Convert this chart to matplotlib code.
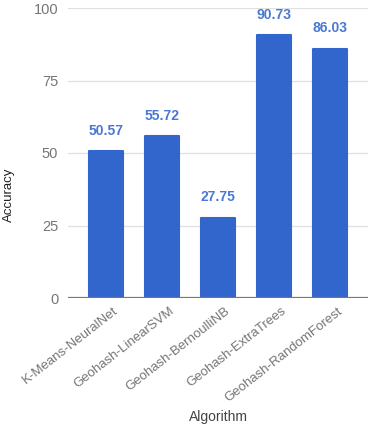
import numpy as np
import matplotlib
matplotlib.use("Agg")
import matplotlib.pyplot as plt
import matplotlib.transforms as mtrans

# data
algoritmi = ["K-Means-NeuralNet", "Geohash-LinearSVM", "Geohash-BernoulliNB",
             "Geohash-ExtraTrees", "Geohash-RandomForest"]
tocnost = [50.57, 55.72, 27.75, 90.73, 86.03]
y_ticks = [0, 25, 50, 75, 100]

plt.rcParams['font.family'] = ['Liberation Sans', 'DejaVu Sans']

W, H = 374, 426
fig = plt.figure(figsize=(W / 100, H / 100), dpi=100)
ax = fig.add_axes([68 / W, 1 - 298 / H, 300 / W, 290 / H])

x = np.arange(len(algoritmi))
# lagano zaobljeni rubovi stupaca
ax.bar(x, tocnost, width=0.62, color="#3366cc", edgecolor="#3366cc",
       linewidth=1.5, joinstyle="round", zorder=3)

# vrijednosti iznad stupaca
for xi, v in zip(x, tocnost):
    ax.text(xi, v + 4.5, f"{v:.2f}", ha="center", va="bottom",
            fontsize=10, fontweight="bold", color="#4a78d4")

ax.set_xlim(-0.68, len(algoritmi) - 1 + 0.68)
ax.set_ylim(0, 100)
ax.set_yticks(y_ticks)
ax.set_yticklabels([str(t) for t in y_ticks])
ax.grid(axis="y", color="#e0e0e0", linewidth=0.9, zorder=0)
ax.axhline(0, color="#777777", linewidth=1.6, zorder=4)

for s in ax.spines.values():
    s.set_visible(False)
ax.tick_params(axis="y", length=0, colors="#757575", labelsize=10.5, pad=7)
ax.tick_params(axis="x", length=0, colors="#757575", labelsize=9.5, pad=5)

ax.set_xticks(x)
ax.set_xticklabels(algoritmi, rotation=38, ha="right", va="top",
                   rotation_mode="anchor")
pomak = mtrans.ScaledTranslation(7 / 100, 0, fig.dpi_scale_trans)
for lbl in ax.get_xticklabels():
    lbl.set_transform(lbl.get_transform() + pomak)

fig.text(9 / W, 1 - 195 / H, "Accuracy", rotation=90, ha="center", va="center",
         fontsize=9.5, color="#222222")
fig.text(218 / W, 1 - 417 / H, "Algorithm", ha="center", va="center",
         fontsize=10, color="#444444")

fig.savefig("out.png", dpi=100)
